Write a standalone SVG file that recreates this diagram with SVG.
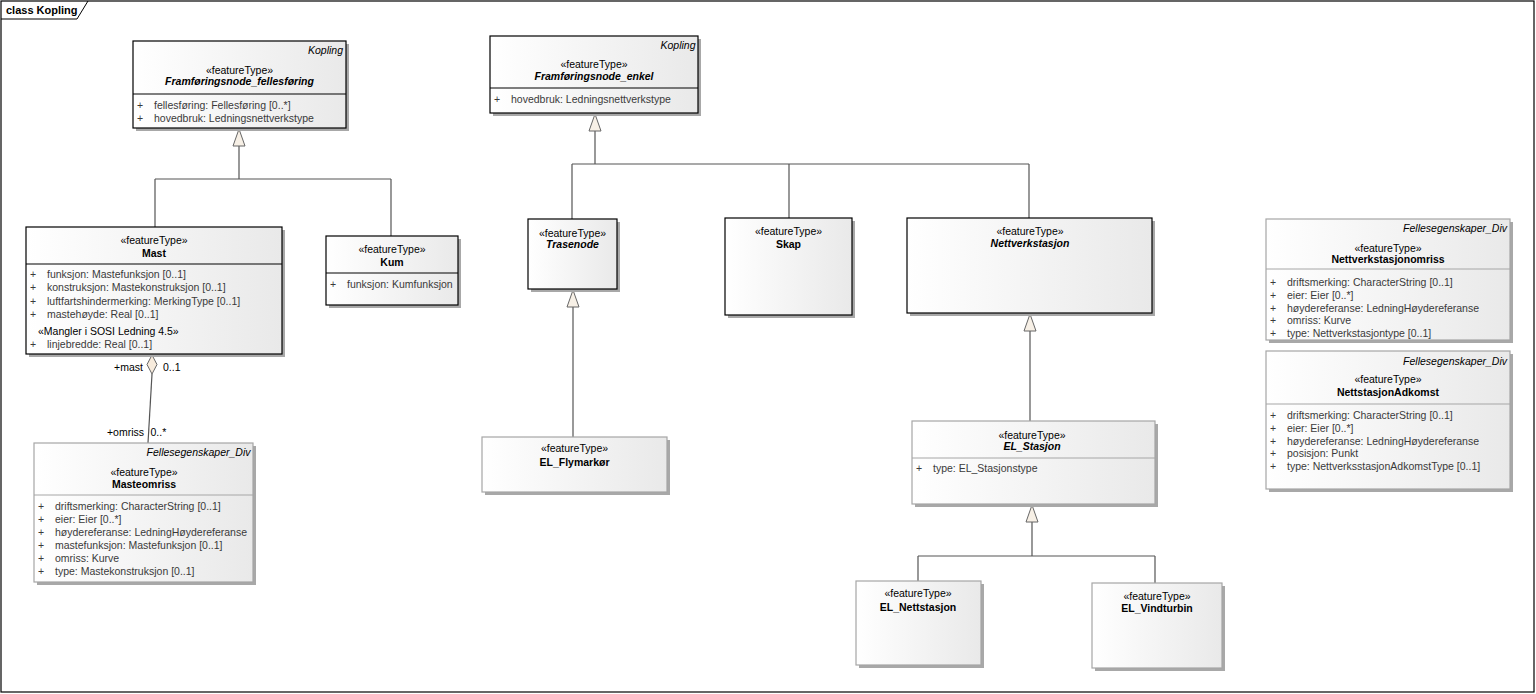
<svg xmlns="http://www.w3.org/2000/svg" width="1536" height="694" viewBox="0 0 1536 694">
<defs>
<linearGradient id="g" x1="0" y1="0" x2="1" y2="0">
<stop offset="0" stop-color="#ffffff"/>
<stop offset="1" stop-color="#e9e9e9"/>
</linearGradient>
<style>
text{font-family:"Liberation Sans",Arial,sans-serif;font-size:10.5px;fill:#000}
.st{text-anchor:middle}
.nm{text-anchor:middle;font-weight:bold}
.ab{text-anchor:middle;font-weight:bold;font-style:italic}
.tag{text-anchor:end;font-style:italic}
.at{fill:#3a3a3a}
.sh{fill:#a8a8a8}
.bk{fill:url(#g);stroke:#000;stroke-width:1.2}
.gr{fill:url(#g);stroke:#a6a6a6;stroke-width:1.2}
.dk{stroke:#000;stroke-width:1}
.dg{stroke:#a6a6a6;stroke-width:1}
.c{fill:none;stroke:#555;stroke-width:1.2}
.tri{fill:#f7f0e6;stroke:#666;stroke-width:1}
</style>
</defs>
<rect width="1536" height="694" fill="#fff"/>
<g id="frame">
<rect x="1" y="1" width="1533" height="691" fill="none" stroke="#000" stroke-width="1.2"/>
<path d="M1 19 H77 L88 1" fill="none" stroke="#000" stroke-width="1"/>
<text x="6" y="14" style="font-weight:bold;font-size:11px">class Kopling</text>
</g>
<g id="connectors">
<path class="c" d="M239 146 V179 M155 179 H391 M155 179 V227 M391 179 V236"/>
<polygon class="tri" points="239,129 245,146 233,146"/>
<path class="c" d="M595 131 V164 M572 164 H1029 M572 164 V219 M789 164 V218 M1029 164 V218"/>
<polygon class="tri" points="595,114 601,131 589,131"/>
<path class="c" d="M573 307 V437"/>
<polygon class="tri" points="573,290 579,307 567,307"/>
<path class="c" d="M1030 331 V421"/>
<polygon class="tri" points="1030,314 1036,331 1024,331"/>
<path class="c" d="M1032 522 V556 M918 556 H1155 M918 556 V581 M1155 556 V583"/>
<polygon class="tri" points="1032,505 1038,522 1026,522"/>
<path class="c" d="M152 374 L148 443"/>
<polygon points="152,355 157,364.5 152,374 147,364.5" fill="#f7ebdc" stroke="#666" stroke-width="1"/>
<text x="143" y="370.5" style="text-anchor:end">+mast</text>
<text x="163" y="370.5">0..1</text>
<text x="144" y="436" style="text-anchor:end">+omriss</text>
<text x="150.5" y="436">0..*</text>
</g>
<g id="Framforingsnode_fellesforing">
<rect class="sh" x="136" y="44" width="213" height="87"/>
<rect class="bk" x="133" y="41" width="213" height="87"/>
<line class="dk" x1="133" y1="94" x2="346" y2="94"/>
<text class="tag" x="343" y="54">Kopling</text>
<text class="st" x="239.5" y="74">«featureType»</text>
<text class="ab" x="239.5" y="85">Framføringsnode_fellesføring</text>
<text class="at" x="137" y="108.5">+</text><text class="at" x="154" y="108.5">fellesføring: Fellesføring [0..*]</text>
<text class="at" x="137" y="121.5">+</text><text class="at" x="154" y="121.5">hovedbruk: Ledningsnettverkstype</text>
</g>
<g id="Mast">
<rect class="sh" x="29" y="230" width="256" height="127"/>
<rect class="bk" x="26" y="227" width="256" height="127"/>
<line class="dk" x1="26" y1="264" x2="282" y2="264"/>
<text class="st" x="154" y="244">«featureType»</text>
<text class="nm" x="154" y="257">Mast</text>
<text class="at" x="30" y="278">+</text><text class="at" x="47" y="278">funksjon: Mastefunksjon [0..1]</text>
<text class="at" x="30" y="291">+</text><text class="at" x="47" y="291">konstruksjon: Mastekonstruksjon [0..1]</text>
<text class="at" x="30" y="304.5">+</text><text class="at" x="47" y="304.5">luftfartshindermerking: MerkingType [0..1]</text>
<text class="at" x="30" y="317.5">+</text><text class="at" x="47" y="317.5">mastehøyde: Real [0..1]</text>
<text x="38" y="335">«Mangler i SOSI Ledning 4.5»</text>
<text class="at" x="30" y="347.5">+</text><text class="at" x="47" y="347.5">linjebredde: Real [0..1]</text>
</g>
<g id="Kum">
<rect class="sh" x="329" y="239" width="132" height="69"/>
<rect class="bk" x="326" y="236" width="132" height="69"/>
<line class="dk" x1="326" y1="273" x2="458" y2="273"/>
<text class="st" x="392" y="253">«featureType»</text>
<text class="nm" x="392" y="266">Kum</text>
<text class="at" x="330" y="287.5">+</text><text class="at" x="347" y="287.5">funksjon: Kumfunksjon</text>
</g>
<g id="Masteomriss">
<rect class="sh" x="37" y="446" width="219" height="139"/>
<rect class="gr" x="34" y="443" width="219" height="139"/>
<line class="dg" x1="34" y1="495" x2="253" y2="495"/>
<text class="tag" x="250.5" y="456">Fellesegenskaper_Div</text>
<text class="st" x="144" y="475.5">«featureType»</text>
<text class="nm" x="144" y="487.5">Masteomriss</text>
<text class="at" x="38" y="510">+</text><text class="at" x="55" y="510">driftsmerking: CharacterString [0..1]</text>
<text class="at" x="38" y="523">+</text><text class="at" x="55" y="523">eier: Eier [0..*]</text>
<text class="at" x="38" y="536">+</text><text class="at" x="55" y="536">høydereferanse: LedningHøydereferanse</text>
<text class="at" x="38" y="549">+</text><text class="at" x="55" y="549">mastefunksjon: Mastefunksjon [0..1]</text>
<text class="at" x="38" y="562">+</text><text class="at" x="55" y="562">omriss: Kurve</text>
<text class="at" x="38" y="575">+</text><text class="at" x="55" y="575">type: Mastekonstruksjon [0..1]</text>
</g>
<g id="Framforingsnode_enkel">
<rect class="sh" x="493" y="39" width="208" height="77"/>
<rect class="bk" x="490" y="36" width="208" height="77"/>
<line class="dk" x1="490" y1="88" x2="698" y2="88"/>
<text class="tag" x="695.5" y="48.5">Kopling</text>
<text class="st" x="594" y="68">«featureType»</text>
<text class="ab" x="594" y="79.5">Framføringsnode_enkel</text>
<text class="at" x="494" y="103">+</text><text class="at" x="511" y="103">hovedbruk: Ledningsnettverkstype</text>
</g>
<g id="Trasenode">
<rect class="sh" x="531" y="222" width="89" height="70"/>
<rect class="bk" x="528" y="219" width="89" height="70"/>
<text class="st" x="572.5" y="236.5">«featureType»</text>
<text class="ab" x="572.5" y="247.5">Trasenode</text>
</g>
<g id="Skap">
<rect class="sh" x="728" y="221" width="127" height="97"/>
<rect class="bk" x="725" y="218" width="127" height="97"/>
<text class="st" x="788.5" y="235">«featureType»</text>
<text class="nm" x="788.5" y="247.5">Skap</text>
</g>
<g id="Nettverkstasjon">
<rect class="sh" x="910" y="221" width="245" height="95"/>
<rect class="bk" x="907" y="218" width="245" height="95"/>
<text class="st" x="1030" y="235">«featureType»</text>
<text class="ab" x="1030" y="247">Nettverkstasjon</text>
</g>
<g id="EL_Flymarkor">
<rect class="sh" x="485" y="440" width="185" height="55"/>
<rect class="gr" x="482" y="437" width="185" height="55"/>
<text class="st" x="574.5" y="452">«featureType»</text>
<text class="nm" x="574.5" y="465.5">EL_Flymarkør</text>
</g>
<g id="EL_Stasjon">
<rect class="sh" x="915" y="424" width="243" height="83"/>
<rect class="gr" x="912" y="421" width="243" height="83"/>
<line class="dg" x1="912" y1="458" x2="1155" y2="458"/>
<text class="st" x="1032" y="438.7">«featureType»</text>
<text class="ab" x="1032" y="450.3">EL_Stasjon</text>
<text class="at" x="916" y="472">+</text><text class="at" x="933" y="472">type: EL_Stasjonstype</text>
</g>
<g id="EL_Nettstasjon">
<rect class="sh" x="859" y="584" width="125" height="84"/>
<rect class="gr" x="856" y="581" width="125" height="84"/>
<text class="st" x="918" y="597">«featureType»</text>
<text class="nm" x="918" y="610.5">EL_Nettstasjon</text>
</g>
<g id="EL_Vindturbin">
<rect class="sh" x="1095" y="586" width="130" height="85"/>
<rect class="gr" x="1092" y="583" width="130" height="85"/>
<text class="st" x="1157" y="599.7">«featureType»</text>
<text class="nm" x="1157" y="612">EL_Vindturbin</text>
</g>
<g id="Nettverkstasjonomriss">
<rect class="sh" x="1269" y="222" width="244" height="121"/>
<rect class="gr" x="1266" y="219" width="244" height="121"/>
<line class="dg" x1="1266" y1="269" x2="1510" y2="269"/>
<text class="tag" x="1507" y="232">Fellesegenskaper_Div</text>
<text class="st" x="1388" y="251.5">«featureType»</text>
<text class="nm" x="1388" y="263">Nettverkstasjonomriss</text>
<text class="at" x="1270" y="286">+</text><text class="at" x="1287" y="286">driftsmerking: CharacterString [0..1]</text>
<text class="at" x="1270" y="298.7">+</text><text class="at" x="1287" y="298.7">eier: Eier [0..*]</text>
<text class="at" x="1270" y="311.5">+</text><text class="at" x="1287" y="311.5">høydereferanse: LedningHøydereferanse</text>
<text class="at" x="1270" y="324.2">+</text><text class="at" x="1287" y="324.2">omriss: Kurve</text>
<text class="at" x="1270" y="337">+</text><text class="at" x="1287" y="337">type: Nettverkstasjontype [0..1]</text>
</g>
<g id="NettstasjonAdkomst">
<rect class="sh" x="1269" y="354" width="244" height="138"/>
<rect class="gr" x="1266" y="351" width="244" height="138"/>
<line class="dg" x1="1266" y1="404" x2="1510" y2="404"/>
<text class="tag" x="1507" y="364.5">Fellesegenskaper_Div</text>
<text class="st" x="1388" y="383.3">«featureType»</text>
<text class="nm" x="1388" y="396.3">NettstasjonAdkomst</text>
<text class="at" x="1270" y="419">+</text><text class="at" x="1287" y="419">driftsmerking: CharacterString [0..1]</text>
<text class="at" x="1270" y="431.5">+</text><text class="at" x="1287" y="431.5">eier: Eier [0..*]</text>
<text class="at" x="1270" y="444.5">+</text><text class="at" x="1287" y="444.5">høydereferanse: LedningHøydereferanse</text>
<text class="at" x="1270" y="457.3">+</text><text class="at" x="1287" y="457.3">posisjon: Punkt</text>
<text class="at" x="1270" y="470">+</text><text class="at" x="1287" y="470">type: NettverksstasjonAdkomstType [0..1]</text>
</g>
</svg>
